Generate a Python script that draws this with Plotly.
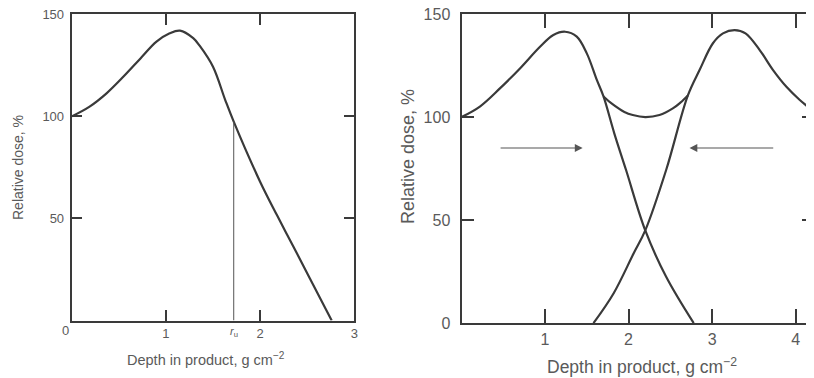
import plotly.graph_objects as go

# ---------------- data ----------------
# Left panel: single-sided irradiation depth-dose curve
left_depth = [0, 0.19, 0.37, 0.55, 0.73, 0.90, 1.04, 1.15, 1.29, 1.36, 1.50, 1.63, 1.72, 2.0, 2.18, 2.35, 2.53, 2.76]
left_dose = [100, 104.8, 111.3, 119.5, 128.4, 136.6, 140.7, 142, 138.3, 134.5, 124.3, 108, 97.4, 68, 51.5, 36.5, 20.5, 0]
ru_depth = 1.72
ru_dose = 97.4

# Right panel: two-sided irradiation
beam_a_depth = [0, 0.22, 0.46, 0.70, 0.94, 1.10, 1.24, 1.38, 1.50, 1.62, 1.70, 1.83, 1.97, 2.20, 2.45, 2.78]
beam_a_dose = [100, 105.1, 113.9, 123.6, 134.1, 139.8, 141.4, 139, 130.9, 118, 110, 92, 74.3, 45, 22.5, 0]
beam_b_depth = [1.58, 1.82, 2.06, 2.20, 2.45, 2.71, 2.85, 3.01, 3.13, 3.27, 3.40, 3.57, 3.73, 3.89, 4.05, 4.22]
beam_b_dose = [0, 14.4, 33.8, 45, 74.3, 110.5, 122.8, 135.8, 140.6, 142.2, 140.6, 132.5, 122.8, 114.7, 108.3, 102.6]
sum_depth = [1.70, 1.80, 1.95, 2.05, 2.20, 2.37, 2.53, 2.62, 2.71]
sum_dose = [110, 106.5, 102.5, 101, 100, 101, 104.2, 107, 110.5]

left_xticks = [1, 2, 3]
right_xticks = [1, 2, 3, 4]
yticks = [0, 50, 100, 150]

# ---------------- style ----------------
# the page body has an 8px margin, so the figure is 8px smaller than the window
OFF = 8
W, H = 814 - OFF, 378 - OFF
LINE = "#3a3a3a"
TXT = "#5a5a5a"
FONT = "Liberation Sans, Arial, sans-serif"

def px_x(p):
    return (p - OFF) / W

def px_y(p):
    return 1 - (p - OFF) / H

fig = go.Figure()

curve = dict(color=LINE, width=2.2, shape="spline", smoothing=1.0)
fig.add_trace(go.Scatter(x=left_depth, y=left_dose, mode="lines", line=curve,
                         xaxis="x", yaxis="y", hoverinfo="skip"))
fig.add_trace(go.Scatter(x=[ru_depth, ru_depth], y=[0, ru_dose], mode="lines",
                         line=dict(color="#555555", width=1), xaxis="x", yaxis="y",
                         hoverinfo="skip"))

fig.add_trace(go.Scatter(x=beam_a_depth, y=beam_a_dose, mode="lines", line=curve,
                         xaxis="x2", yaxis="y2", hoverinfo="skip"))
fig.add_trace(go.Scatter(x=beam_b_depth, y=beam_b_dose, mode="lines", line=curve,
                         xaxis="x2", yaxis="y2", hoverinfo="skip"))
fig.add_trace(go.Scatter(x=sum_depth, y=sum_dose, mode="lines", line=curve,
                         xaxis="x2", yaxis="y2", hoverinfo="skip"))

axis_common = dict(showline=True, linecolor=LINE, linewidth=2, mirror="ticks",
                   ticks="inside", tickcolor=LINE, tickwidth=1.5, automargin=False,
                   ticklabeloverflow="allow",
                   showgrid=False, zeroline=False, fixedrange=True)

fig.update_layout(
    width=W, height=H, autosize=False,
    margin=dict(l=0, r=0, t=0, b=0, pad=0),
    paper_bgcolor="white", plot_bgcolor="white",
    showlegend=False,
    font=dict(family=FONT, color=TXT),
    xaxis=dict(domain=[px_x(71.7), px_x(354.3)], range=[0, 3], tickvals=left_xticks,
               ticklen=11, tickfont=dict(size=13, color=TXT), ticklabelstandoff=0,
               anchor="y", **axis_common),
    yaxis=dict(domain=[px_y(320.5), px_y(14.3)], range=[0, 150], tickvals=yticks,
               ticktext=[" ", "50", "100", "150"],
               ticklen=10, tickfont=dict(size=13, color=TXT), ticklabelstandoff=3,
               anchor="x", **axis_common),
    xaxis2=dict(domain=[px_x(461.5), 1.0], range=[0, 4.22], tickvals=right_xticks,
                ticklen=14, tickfont=dict(size=16, color=TXT), ticklabelstandoff=1,
                anchor="y2", **axis_common),
    yaxis2=dict(domain=[px_y(323.2), px_y(14)], range=[0, 150], tickvals=yticks,
                ticklen=12, tickfont=dict(size=16, color=TXT), ticklabelstandoff=6,
                anchor="x2", **axis_common),
)

ann = []
centered = dict(xanchor="center", yanchor="middle", showarrow=False)
# corner "0" of left panel
ann.append(dict(text="0", x=px_x(65), y=px_y(330), xref="paper", yref="paper",
                font=dict(size=13, color=TXT), **centered))
# r_u label
ann.append(dict(text="<i>r</i><sub>u</sub>", x=ru_depth, y=px_y(332), xref="x", yref="paper",
                font=dict(size=11, color=TXT), **centered))
# axis titles
ann.append(dict(text="Depth in product, g cm<sup>\u22122</sup>", x=px_x(206), y=px_y(359),
                xref="paper", yref="paper", font=dict(size=14.5, color=TXT), **centered))
ann.append(dict(text="Depth in product, g cm<sup>\u22122</sup>", x=px_x(642), y=px_y(366),
                xref="paper", yref="paper", font=dict(size=17.5, color=TXT), **centered))
ann.append(dict(text="Relative dose, %", x=px_x(18), y=px_y(168), textangle=-90,
                xref="paper", yref="paper", font=dict(size=14, color=TXT), **centered))
ann.append(dict(text="Relative dose, %", x=px_x(408), y=px_y(157), textangle=-90,
                xref="paper", yref="paper", font=dict(size=18, color=TXT), **centered))
# beam direction arrows
for x0, x1 in [(0.45, 1.45), (3.75, 2.73)]:
    ann.append(dict(x=x1, y=85, ax=x0, ay=85, xref="x2", yref="y2", axref="x2", ayref="y2",
                    showarrow=True, arrowhead=2, arrowsize=1.3, arrowwidth=1.2,
                    arrowcolor="#555555", text=""))
fig.update_layout(annotations=ann)

fig.write_html("out.html")
